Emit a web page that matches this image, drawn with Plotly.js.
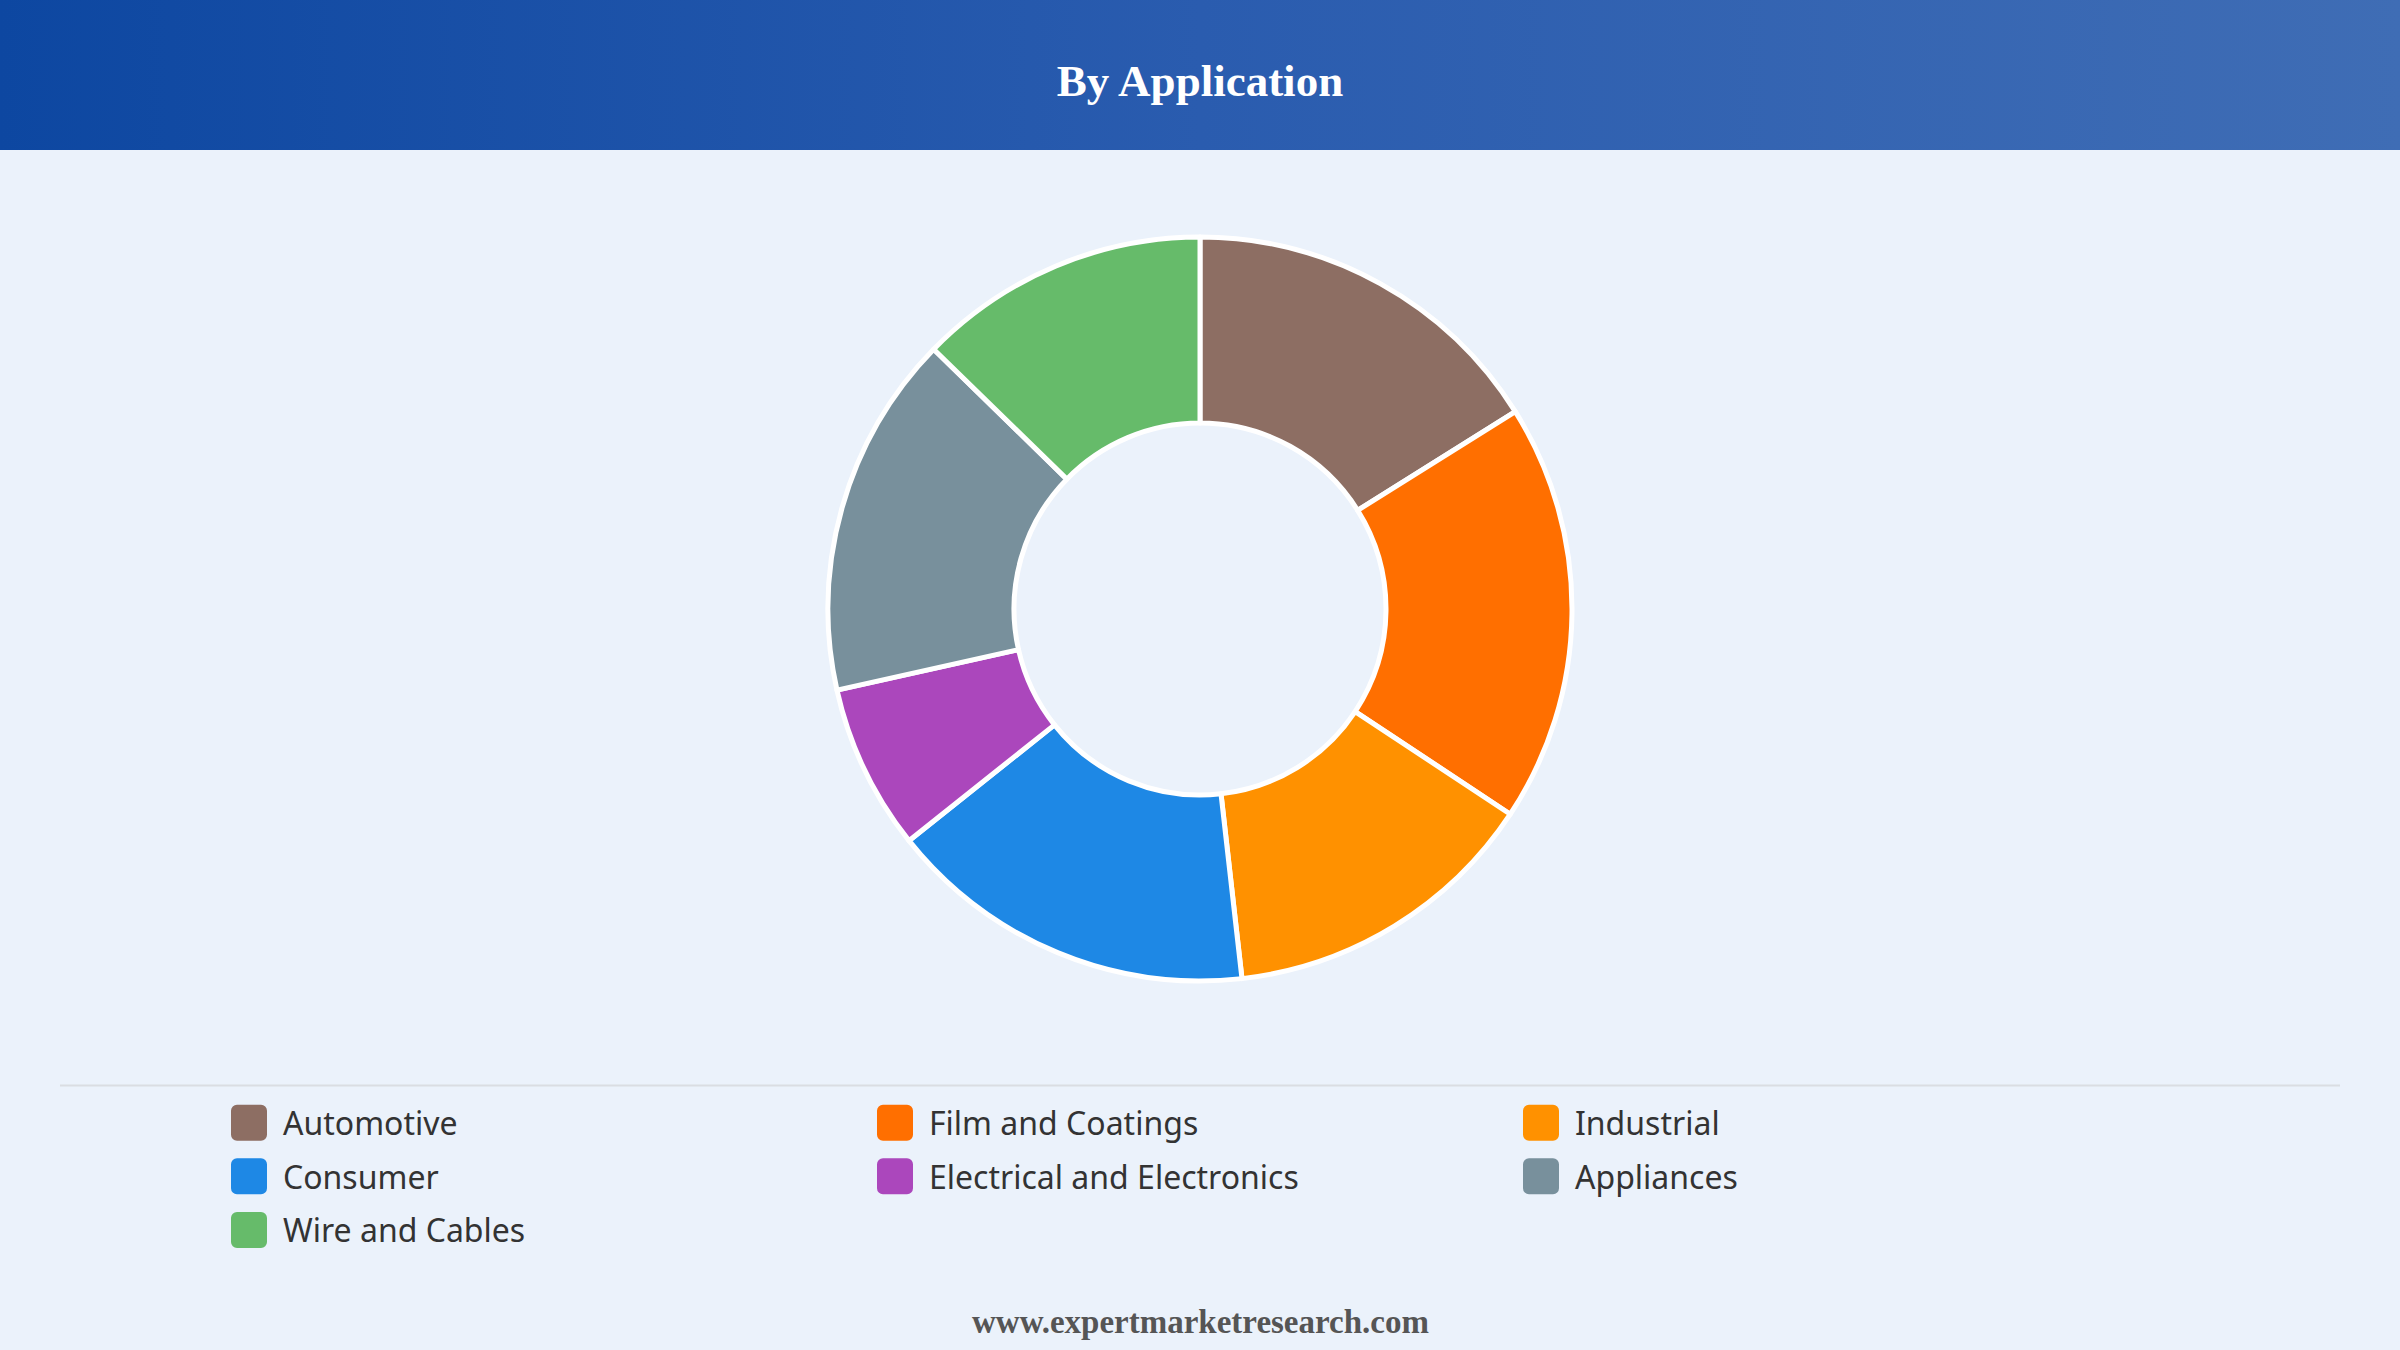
<!DOCTYPE html>
<html>
<head>
<meta charset="utf-8">
<script src="https://cdn.plot.ly/plotly-3.0.1.min.js"></script>
<style>
  html, body { margin: 0; padding: 0; background: #EBF2FB; }
  #wrap { position: relative; width: 2400px; height: 1350px; overflow: hidden; background: #EBF2FB; }
  #hdr { position: absolute; left: 0; top: 0; width: 2400px; height: 150px;
         background: linear-gradient(90deg, #0D47A1 0%, #2A5CAF 50%, #3F6DB5 100%); }
  #chart { position: absolute; left: 0; top: 0; width: 2400px; height: 1350px; }
</style>
</head>
<body>
<div id="wrap"><div id="hdr"></div><div id="chart"></div></div>
<script>
// ---- data ----
const categories = ["Automotive", "Film and Coatings", "Industrial", "Consumer",
                    "Electrical and Electronics", "Appliances", "Wire and Cables"];
const shares = [16.1, 18.2, 13.9, 16.1, 7.2, 15.8, 12.7];
const sliceColors = ["#8D6E63", "#FF6F00", "#FF9100", "#1E88E5", "#AB47BC", "#78909C", "#66BB6A"];
const chartTitle = "By Application";
const footerText = "www.expertmarketresearch.com";

const W = 2400, H = 1350;
const cx = 1200, cy = 609, R = 372;

const legendLabels = categories.map(c => '<span style="font-size:32px">' + c + '</span>');

const trace = {
  type: 'pie',
  labels: legendLabels,
  values: shares,
  sort: false,
  direction: 'clockwise',
  rotation: 0,
  hole: 0.5,
  textinfo: 'none',
  hoverinfo: 'percent',
  marker: { colors: sliceColors, line: { color: '#FFFFFF', width: 5 } },
  domain: { x: [(cx - R) / W, (cx + R) / W], y: [1 - (cy + R) / H, 1 - (cy - R) / H] }
};

const layout = {
  width: W, height: H,
  margin: { l: 0, r: 0, t: 0, b: 0, pad: 0 },
  paper_bgcolor: 'rgba(0,0,0,0)',
  plot_bgcolor: 'rgba(0,0,0,0)',
  title: {
    text: chartTitle,
    font: { family: 'Liberation Serif, Times New Roman, serif', size: 45, color: '#FFFFFF', weight: 'bold' },
    x: 0.5, xanchor: 'center', xref: 'paper',
    y: 1 - 80 / H, yanchor: 'middle', yref: 'container'
  },
  showlegend: true,
  legend: {
    orientation: 'h',
    x: 229 / W, xanchor: 'left',
    y: 1 - 1088 / H, yanchor: 'top',
    entrywidth: 587, entrywidthmode: 'pixels',
    itemwidth: 44,
    font: { family: 'Noto Sans, Open Sans, sans-serif', size: 39, color: '#333333' },
    bgcolor: 'rgba(0,0,0,0)',
    borderwidth: 0,
    traceorder: 'normal',
    itemclick: false, itemdoubleclick: false
  },
  shapes: [{
    type: 'line', xref: 'paper', yref: 'paper',
    x0: 60 / W, x1: 2340 / W, y0: 1 - 1085.5 / H, y1: 1 - 1085.5 / H,
    line: { color: '#DADDE2', width: 2 }
  }],
  annotations: [{
    text: footerText, showarrow: false,
    xref: 'paper', yref: 'paper', x: 0.5, xanchor: 'center',
    y: 1 - 1322 / H, yanchor: 'middle',
    font: { family: 'Liberation Serif, Times New Roman, serif', size: 33, color: '#555555', weight: 'bold' }
  }]
};

function roundedRect(x, y, w, h, r) {
  return 'M' + (x + r) + ',' + y +
    'H' + (x + w - r) + 'A' + r + ',' + r + ' 0 0 1 ' + (x + w) + ',' + (y + r) +
    'V' + (y + h - r) + 'A' + r + ',' + r + ' 0 0 1 ' + (x + w - r) + ',' + (y + h) +
    'H' + (x + r) + 'A' + r + ',' + r + ' 0 0 1 ' + x + ',' + (y + h - r) +
    'V' + (y + r) + 'A' + r + ',' + r + ' 0 0 1 ' + (x + r) + ',' + y + 'Z';
}

function fixLegend() {
  const gd = document.getElementById('chart');
  gd.querySelectorAll('g.legend g.traces').forEach(g => {
    const txt = g.querySelector('text.legendtext');
    const p = g.querySelector('path.legendpie');
    if (!txt || !p) return;
    const tx = parseFloat(txt.getAttribute('x')) || 54;
    const s = 36;
    p.setAttribute('d', roundedRect(tx - 16 - s, 2.8 - s / 2, s, s, 6));
    p.setAttribute('transform', 'translate(0,0)');
    p.style.strokeWidth = '0px';
  });
}

const gd = document.getElementById('chart');
Plotly.newPlot(gd, [trace], layout, { displayModeBar: false, responsive: false }).then(() => {
  fixLegend();
  gd.on('plotly_afterplot', fixLegend);
});
</script>
</body>
</html>
